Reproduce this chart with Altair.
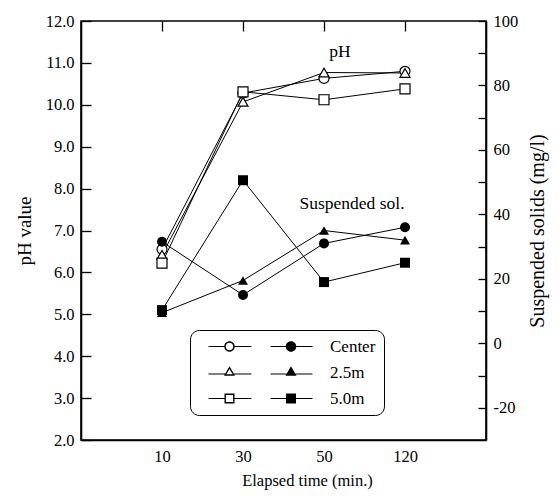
import altair as alt
import pandas as pd

# ---- data ----
times = ["10", "30", "50", "120"]
series = ["Center", "2.5m", "5.0m"]
ph_center = [6.55, 10.28, 10.63, 10.80]
ph_25m = [6.42, 10.07, 10.77, 10.76]
ph_50m = [6.22, 10.31, 10.12, 10.38]
ss_center = [31.5, 15.0, 31.0, 36.0]
ss_25m = [9.5, 19.5, 35.0, 32.0]
ss_50m = [10.3, 50.6, 19.0, 25.0]
ph_ticks = [2, 3, 4, 5, 6, 7, 8, 9, 10, 11, 12]
ss_ticks = [-20, -10, 0, 10, 20, 30, 40, 50, 60, 70, 80, 90, 100]
notes_text = ["pH", "Suspended sol."]
notes_time = ["50", "50"]
notes_ph = [11.26, 7.63]

rows = []
for s, ph, ss in zip(series, [ph_center, ph_25m, ph_50m], [ss_center, ss_25m, ss_50m]):
    for t, p, q in zip(times, ph, ss):
        rows.append({"time": t, "series": s, "pH": p, "SS": q})
df = pd.DataFrame(rows)
notes = pd.DataFrame({"label": notes_text, "time": notes_time, "pH": notes_ph})

FONT = "Liberation Serif"


# ---- legend symbol paths: open marker + line, filled marker + line (all filled shapes) ----
def circ(cx, cy, r, sweep):
    return (f"M{cx - r},{cy}A{r},{r},0,1,{sweep},{cx + r},{cy}"
            f"A{r},{r},0,1,{sweep},{cx - r},{cy}Z")


def tri(cx, s, rev):
    pts = [(cx, -1.2 * s), (cx + 1.05 * s, 0.6 * s), (cx - 1.05 * s, 0.6 * s)]
    if rev:
        pts = [pts[0], pts[2], pts[1]]
    return "M" + "L".join(f"{x:.3f},{y:.3f}" for x, y in pts) + "Z"


def sq(cx, h, rev):
    if rev:
        return f"M{cx - h},{-h}V{h}H{cx + h}V{-h}Z"
    return f"M{cx - h},{-h}H{cx + h}V{h}H{cx - h}Z"


def seg(x0, x1, y, w=0.11):
    return f"M{x0},{y - w}H{x1}V{y + w}H{x0}Z"


L0, L1, R0, R1 = -10.4, -1.8, 2.0, 10.4
OC, FC = -6.2, 6.1


def segs(half, y):
    return (seg(L0, OC - half, y) + seg(OC + half, L1, y)
            + seg(R0, FC - half, y) + seg(FC + half, R1, y))


p_circle = segs(1.0, 0) + circ(OC, 0, 1.05, 1) + circ(OC, 0, 0.75, 0) + circ(FC, 0, 1.05, 1)
p_tri = segs(0.85, 0.3) + tri(OC, 1.05, False) + tri(OC, 0.6, True) + tri(FC, 1.05, False)
p_sq = segs(1.0, 0) + sq(OC, 1.0, False) + sq(OC, 0.72, True) + sq(FC, 1.0, False)

x_enc = alt.X(
    "time:O", sort=times,
    scale=alt.Scale(type="point", padding=1),
    axis=alt.Axis(title="Elapsed time (min.)", labelAngle=0, ticks=False,
                  grid=True, gridDash=[10, 1000], gridColor="black", gridWidth=1.3,
                  labelFont=FONT, labelFontSize=16.5, titleFont=FONT,
                  labelPadding=8, titlePadding=8, titleFontSize=16.5, titleX=226),
)

y_ph = alt.Y(
    "pH:Q", scale=alt.Scale(domain=[2, 12], nice=False, zero=False),
    axis=alt.Axis(orient="left", values=ph_ticks, format=".1f", title="pH value",
                  ticks=False, grid=True, gridDash=[10, 1000], gridColor="black",
                  gridWidth=1.3, labelPadding=7, titlePadding=11, titleFontSize=19,
                  labelFont=FONT, labelFontSize=16.5, titleFont=FONT),
)
y_ss = alt.Y(
    "SS:Q", scale=alt.Scale(domain=[-30, 100], nice=False, zero=False),
    axis=alt.Axis(orient="right", values=ss_ticks,
                  labelExpr="datum.value % 20 === 0 ? '' + datum.value : ''",
                  title="Suspended solids (mg/l)", titleAngle=270,
                  ticks=False, grid=True, gridDash=[8, 1000], gridColor="black",
                  gridWidth=1.3, labelPadding=7, titlePadding=30, titleFontSize=20,
                  labelFont=FONT, labelFontSize=16.5, titleFont=FONT),
)

shape_std = alt.Scale(domain=series, range=["circle", "triangle-up", "square"])

base = alt.Chart(df)
ph_lines = base.mark_line(color="black", strokeWidth=1).encode(
    x=x_enc, y=y_ph, detail="series:N")
ph_points = base.mark_point(filled=True, fill="white", stroke="black", strokeWidth=1.2,
                            size=100, opacity=1).encode(
    x=x_enc, y=y_ph, shape=alt.Shape("series:N", scale=shape_std, legend=None))
note_ph = alt.Chart(notes).transform_filter(alt.datum.label == "pH").mark_text(
    font=FONT, fontSize=17.5, color="black", dx=16, align="center", baseline="middle"
).encode(x=x_enc, y=y_ph, text="label:N")
note_ss = alt.Chart(notes).transform_filter(alt.datum.label != "pH").mark_text(
    font=FONT, fontSize=17.5, color="black", dx=28, align="center", baseline="middle"
).encode(x=x_enc, y=y_ph, text="label:N")

ss_lines = base.mark_line(color="black", strokeWidth=1).encode(
    x=x_enc, y=y_ss, detail="series:N")
ss_points = base.mark_point(filled=True, color="black", size=100, opacity=1).encode(
    x=x_enc, y=y_ss, shape=alt.Shape("series:N", scale=shape_std, legend=None))
legend_dummy = base.mark_point(filled=True, color="black", size=100, opacity=0).encode(
    x=x_enc, y=y_ss,
    shape=alt.Shape(
        "series:N",
        scale=alt.Scale(domain=series, range=[p_circle, p_tri, p_sq]),
        legend=alt.Legend(
            title=None, orient="none", legendX=109, legendY=309,
            symbolSize=100, symbolOpacity=1, symbolFillColor="black",
            symbolStrokeWidth=0,
            symbolOffset=54, labelOffset=61, labelFont=FONT, labelFontSize=17,
            labelColor="black", rowPadding=8, padding=8, strokeColor="black",
            cornerRadius=9, fillColor="white",
            labelExpr="datum.label + '\u00a0\u00a0\u00a0\u00a0'",
        ),
    ),
)

ph_layer = alt.layer(ph_lines, ph_points, note_ph, note_ss)
ss_layer = alt.layer(ss_lines, ss_points, legend_dummy).resolve_scale(shape="independent")

chart = alt.layer(ph_layer, ss_layer).resolve_scale(
    y="independent", shape="independent"
).properties(
    width=405, height=419, autosize="none",
    padding={"left": 73, "top": 13, "right": 64, "bottom": 50},
).configure(font=FONT).configure_view(
    stroke="black", strokeWidth=1.6
).configure_axis(
    domainColor="black", domainWidth=1.6, labelFont=FONT, labelFontSize=16.5,
    labelColor="black", titleFont=FONT, titleFontWeight="normal", titleColor="black",
).configure_legend(strokeWidth=1)

chart.save("out.html", embed_options={"renderer": "svg", "actions": False})
